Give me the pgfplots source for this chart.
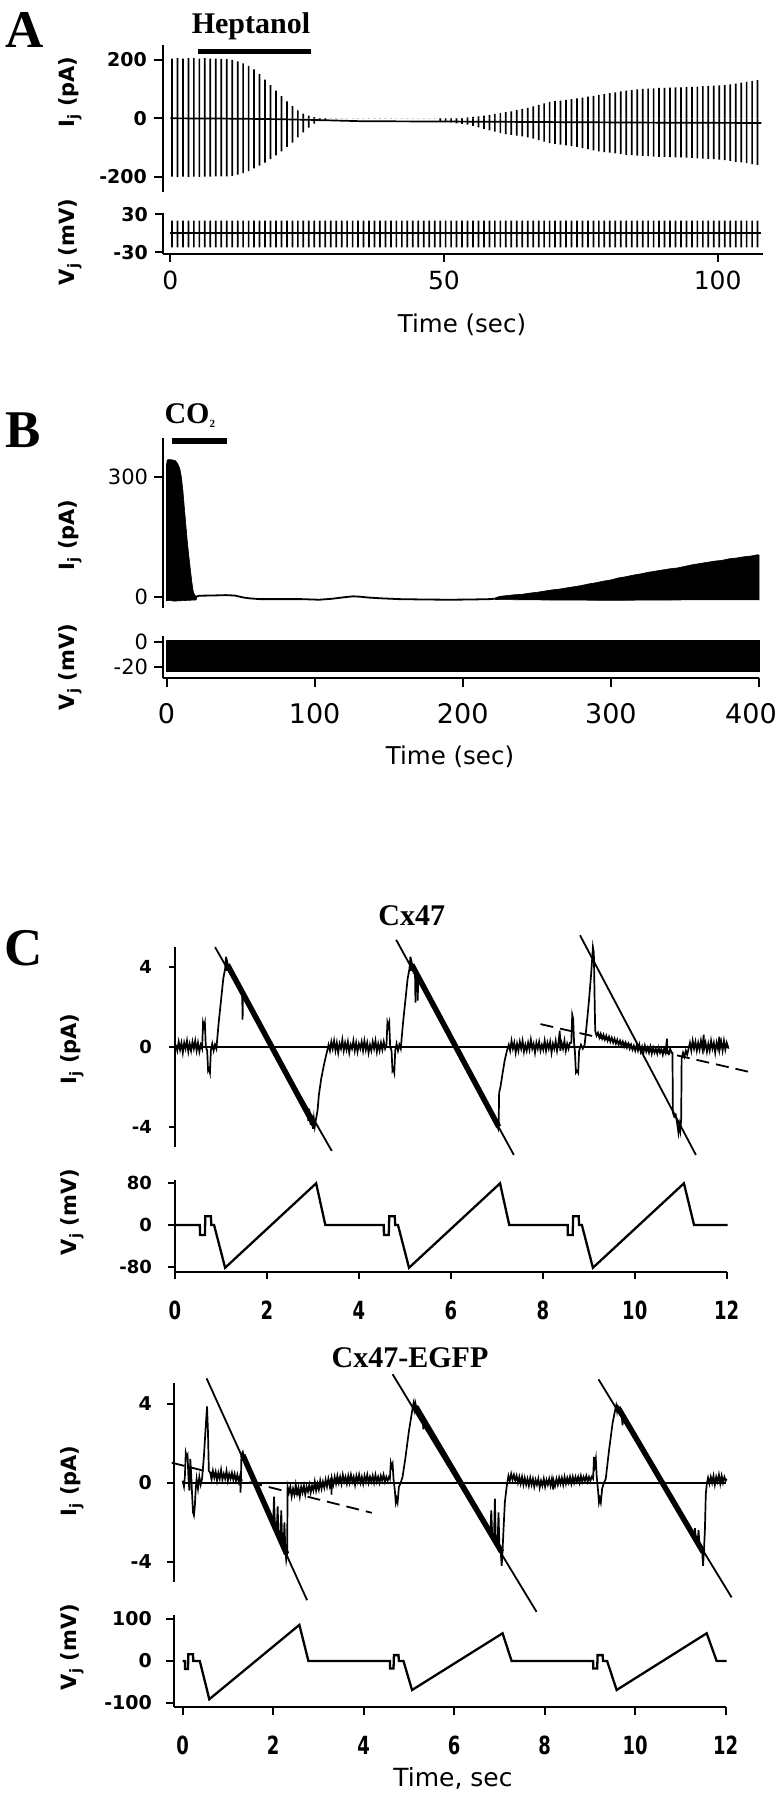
\documentclass[border=0pt]{standalone}
\usepackage{fontspec}
\usepackage{pgfplots}
\usepackage{pgfplotstable}
\pgfplotsset{compat=1.18}
\setmainfont{Liberation Serif}
\newfontfamily\djv{DejaVu Sans}
\newfontfamily\djvc{DejaVu Sans}[FakeStretch=0.72]
\newcommand\fsz[1]{\fontsize{#1bp}{#1bp}\selectfont}

\pgfplotstableread{
t hi lo vh vl
0.3 205 -200 20 -22
1.3 206 -201 20 -22
2.3 205 -200 20 -22
3.3 206 -201 20 -22
4.3 206 -200 20 -22
5.3 205 -201 20 -22
6.3 206 -200 20 -22
7.3 205 -200 20 -22
8.3 205 -199 20 -22
9.3 204 -199 20 -22
10.3 203 -199 20 -22
11.3 200 -197 20 -22
12.3 195 -193 20 -22
13.3 188 -188 20 -22
14.3 180 -181 20 -22
15.3 168 -172 20 -22
16.3 152 -162 20 -22
17.3 133 -152 20 -22
18.3 114 -140 20 -22
19.3 95 -127 20 -22
20.3 76 -113 20 -22
21.3 58 -98 20 -22
22.3 42 -83 20 -22
23.3 27 -65 20 -22
24.3 16 -48 20 -22
25.3 9 -32 20 -22
26.3 4 -18 20 -22
27.3 1 -10 20 -22
28.3 0 -6 20 -22
29.3 0 0 20 -22
30.3 0 0 20 -22
31.3 0 0 20 -22
32.3 0 0 20 -22
33.3 0 0 20 -22
34.3 0 0 20 -22
35.3 0 0 20 -22
36.3 0 0 20 -22
37.3 0 0 20 -22
38.3 0 0 20 -22
39.3 0 0 20 -22
40.3 0 0 20 -22
41.3 0 0 20 -22
42.3 0 0 20 -22
43.3 0 0 20 -22
44.3 0 0 20 -22
45.3 0 0 20 -22
46.3 0 0 20 -22
47.3 0 0 20 -22
48.3 0 0 20 -22
49.3 0 -10 20 -22
50.3 0 -12 20 -22
51.3 0 -14 20 -22
52.3 0 -17 20 -22
53.3 1 -19 20 -22
54.3 3 -22 20 -22
55.3 5 -26 20 -22
56.3 7 -31 20 -22
57.3 9 -36 20 -22
58.3 12 -41 20 -22
59.3 15 -46 20 -22
60.3 18 -51 20 -22
61.3 21 -54 20 -22
62.3 24 -57 20 -22
63.3 28 -59 20 -22
64.3 32 -62 20 -22
65.3 36 -65 20 -22
66.3 41 -70 20 -22
67.3 46 -75 20 -22
68.3 51 -80 20 -22
69.3 56 -85 20 -22
70.3 59 -88 20 -22
71.3 61 -90 20 -22
72.3 63 -93 20 -22
73.3 66 -95 20 -22
74.3 68 -98 20 -22
75.3 71 -102 20 -22
76.3 74 -106 20 -22
77.3 77 -110 20 -22
78.3 80 -113 20 -22
79.3 83 -116 20 -22
80.3 86 -118 20 -22
81.3 89 -120 20 -22
82.3 92 -122 20 -22
83.3 95 -125 20 -22
84.3 97 -126 20 -22
85.3 99 -128 20 -22
86.3 101 -129 20 -22
87.3 102 -130 20 -22
88.3 103 -131 20 -22
89.3 104 -132 20 -22
90.3 104 -132 20 -22
91.3 105 -133 20 -22
92.3 106 -134 20 -22
93.3 106 -134 20 -22
94.3 107 -135 20 -22
95.3 108 -136 20 -22
96.3 109 -137 20 -22
97.3 110 -138 20 -22
98.3 111 -139 20 -22
99.3 112 -140 20 -22
100.3 113 -142 20 -22
101.3 114 -143 20 -22
102.3 116 -146 20 -22
103.3 119 -149 20 -22
104.3 122 -151 20 -22
105.3 125 -154 20 -22
106.3 128 -157 20 -22
107.3 131 -160 20 -22
}\tabA

\pgfplotsset{
  base/.style={scale only axis, clip=false,
    axis line style={line width=2bp, black},
    tick style={line width=2bp, black}, tick align=outside,
    axis y line*=left,
    yticklabel style={inner sep=0pt},
    xticklabel style={inner sep=0pt}},
  ionly/.style={base, axis x line=none},
  vstyle/.style={base, axis x line*=bottom},
  tr/.style={black, line width=1.7bp},
  band/.style={black, line width=5.5bp},
  fit/.style={black, line width=1.8bp},
}

\begin{document}
\begin{tikzpicture}
\path[use as bounding box] (0,0) rectangle (777bp,-1800bp);

%% ---------------- Panel A ----------------
\begin{axis}[ionly, at={(162.7bp,-192bp)}, anchor=south west,
  width=599.8bp, height=147bp, xmin=-1.4, xmax=108.2, ymin=-252.6, ymax=251.3,
  major tick length=9bp,
  ytick={-200,0,200}, yticklabels={-200,0,200},
  yticklabel style={font=\djv\bfseries\fsz{19}, xshift=-6.7bp}]
\addplot[ybar, bar width=1.7bp, bar shift=0pt, fill=black, draw=none] table[x=t,y=hi]{\tabA};
\addplot[ybar, bar width=1.7bp, bar shift=0pt, fill=black, draw=none] table[x=t,y=lo]{\tabA};
\addplot[tr] coordinates {(0,0)(10,-1)(20,-3)(27,-6)(35,-10)(50,-11)(70,-13)(90,-15)(108,-16)};
\draw[line width=5bp] (axis cs:5.1,230.7) -- (axis cs:25.75,230.7);
\end{axis}
\begin{axis}[vstyle, at={(162.7bp,-254bp)}, anchor=south west,
  width=599.8bp, height=40.7bp, xmin=-1.4, xmax=108.2, ymin=-32.4, ymax=31.3,
  major tick length=8bp,
  ytick={-30,30}, yticklabels={-30,30},
  xtick={0,50,100}, xticklabels={0,50,100},
  yticklabel style={font=\djv\bfseries\fsz{19}, xshift=-6.7bp},
  xticklabel style={font=\djv\fsz{25}, yshift=-9bp}]
\addplot[ybar, bar width=1.7bp, bar shift=0pt, fill=black, draw=none] table[x=t,y=vh]{\tabA};
\addplot[ybar, bar width=1.7bp, bar shift=0pt, fill=black, draw=none] table[x=t,y=vl]{\tabA};
\addplot[tr] coordinates {(0,0)(108,0)};
\end{axis}

\node[anchor=base, font=\bfseries\fsz{53}] at (25bp,-47bp) {A};
\node[anchor=base, font=\bfseries\fsz{30}] at (251bp,-33bp) {Heptanol};
\node[rotate=90, font=\djv\bfseries\fsz{21}] at (70bp,-92bp) {I\textsubscript{j} (pA)};
\node[rotate=90, font=\djv\bfseries\fsz{21}] at (70bp,-242bp) {V\textsubscript{j} (mV)};
\node[font=\djv\fsz{24.5}] at (462bp,-325bp) {Time (sec)};

%% ---------------- Panel B ----------------
\begin{axis}[ionly, at={(162.7bp,-608bp)}, anchor=south west,
  width=596.3bp, height=170bp, xmin=-2.57, xmax=400, ymin=-28.2, ymax=396.8,
  major tick length=8.5bp,
  ytick={0,300}, yticklabels={0,300},
  yticklabel style={font=\djv\fsz{21}, xshift=-6bp}]
\addplot[fill=black, draw=black, line width=0.6bp] coordinates {
(0,330)(0.5,342)(2,343)(4,342)(6,340)(7.5,333)(9,320)(10,300)(11,268)(12,225)(13,182)
(14,140)(15,104)(16,72)(17,40)(18,14)(19,4)(20,1)(20.5,-2)
(20,-8)(15,-9)(10,-10)(5,-11)(2,-9)(0,-10)} -- cycle;
\addplot[tr, line width=1.8bp] coordinates {(20,0)(22,2.5)(30,3)(40,4)(46,3)(52,-2)(56,-4)(63,-6)(75,-6)(91,-6)
(103,-7.5)(112,-5)(119,-1.7)(126,1)(131,0)(136,-2)(145,-4)(157,-6)(175,-7)(191,-7.5)(205,-7)(218,-6)(225,-4)};
\addplot[fill=black, draw=black, line width=0.6bp] coordinates {
(222,-3)(225,1)(230,3)(235,5)(240,6)(245,9)(250,11)(255,14)(260,17)(265,19)(270,22)(275,25)
(280,28)(285,32)(290,35)(295,39)(300,42)(305,47)(310,50)(315,54)(320,57)(325,61)(330,64)
(335,67)(340,70)(345,72)(350,76)(355,80)(360,83)(365,86)(370,89)(375,91)(380,95)(385,97)
(390,100)(395,102)(399,105)(400,104)
(400,-8)(350,-8)(300,-9)(250,-8)(222,-7)} -- cycle;
\draw[line width=5.5bp] (axis cs:3.7,389) -- (axis cs:41,389);
\end{axis}
\begin{axis}[vstyle, at={(162.7bp,-678.3bp)}, anchor=south west,
  width=596.3bp, height=42.3bp, xmin=-2.57, xmax=400, ymin=-29.3, ymax=4.5,
  major tick length=8.5bp,
  ytick={-20,0}, yticklabels={-20,0},
  xtick={0,100,200,300,400}, xticklabels={0,100,200,300,{\hspace*{-16bp}400}},
  yticklabel style={font=\djv\fsz{21}, xshift=-6bp},
  xticklabel style={font=\djv\fsz{27}, yshift=-16bp}]
\addplot[fill=black, draw=black, line width=0.6bp] coordinates {(0,0.8)(400,0.8)(400,-24)(0,-24)} -- cycle;
\end{axis}

\node[anchor=base, font=\bfseries\fsz{53}] at (23bp,-447bp) {B};
\node[anchor=base west, font=\bfseries\fsz{30}] at (161bp,-423bp) {CO\raisebox{-4bp}{\fsz{11}2}};
\node[rotate=90, font=\djv\bfseries\fsz{21}] at (70bp,-535bp) {I\textsubscript{j} (pA)};
\node[rotate=90, font=\djv\bfseries\fsz{21}] at (70bp,-667bp) {V\textsubscript{j} (mV)};
\node[font=\djv\fsz{24.5}] at (450bp,-757bp) {Time (sec)};

%% ---------------- Panel C : Cx47 ----------------
\begin{axis}[ionly, at={(175bp,-1146.7bp)}, anchor=south west,
  width=551.7bp, height=200bp, xmin=0, xmax=12, ymin=-5, ymax=5,
  major tick length=6bp,
  ytick={-4,0,4}, yticklabels={-4,0,4},
  yticklabel style={font=\djv\bfseries\fsz{18}, xshift=-17bp}]
\addplot[fit] coordinates {(0,0)(12.05,0)};
\addplot[band] coordinates {(1.14,4.1)(3.02,-3.9)};
\addplot[band] coordinates {(5.15,4.1)(7.04,-4.0)};
\addplot[tr] coordinates {
(0.02,0.1)(0.05,-0.2)(0.08,0.25)(0.11,-0.15)(0.14,0.2)(0.17,-0.3)(0.20,0.2)(0.23,-0.1)(0.26,0.3)(0.29,-0.25)
(0.32,0.15)(0.35,-0.2)(0.38,0.25)(0.41,-0.1)(0.44,0.3)(0.47,-0.2)(0.50,0.2)(0.53,-0.25)(0.56,0.1)(0.59,-0.1)
(0.61,1.2)(0.63,1.0)(0.65,1.2)(0.67,0.0)(0.70,-0.2)(0.72,-1.2)(0.74,-1.1)(0.76,-1.3)(0.78,-0.2)(0.81,0.15)
(0.84,-0.2)(0.87,0.1)(0.90,-0.1)(0.95,1.2)(1.00,2.3)(1.05,3.4)(1.09,3.9)(1.11,4.5)(1.12,3.8)(1.14,4.2)(1.17,3.9)
(1.20,3.95)(1.30,3.5)(1.40,3.1)(1.46,2.8)(1.47,1.35)(1.48,2.75)(1.60,2.2)(1.80,1.35)(2.00,0.5)(2.20,-0.35)
(2.40,-1.2)(2.60,-2.05)(2.80,-2.9)(2.88,-3.2)(2.90,-3.7)(2.92,-3.1)(2.95,-3.9)(2.97,-3.4)(3.00,-4.1)(3.02,-3.6)
(3.04,-4.0)(3.06,-3.7)(3.10,-3.2)(3.13,-2.4)(3.18,-1.6)(3.24,-0.9)(3.30,-0.3)(3.34,0.1)
(3.37,-0.2)(3.40,0.25)(3.43,-0.1)(3.46,0.3)(3.49,-0.2)(3.52,0.2)(3.55,-0.3)(3.58,0.15)(3.61,-0.1)(3.64,0.35)
(3.67,-0.2)(3.70,0.2)(3.73,-0.15)(3.76,0.25)(3.79,-0.3)(3.82,0.1)(3.85,-0.1)(3.88,0.3)(3.91,-0.2)(3.94,0.2)
(3.97,-0.25)(4.00,0.15)(4.03,-0.1)(4.06,0.25)(4.09,-0.2)(4.12,0.3)(4.15,-0.15)(4.18,0.2)(4.21,-0.3)(4.24,0.1)
(4.27,-0.2)(4.30,0.25)(4.33,-0.1)(4.36,0.3)(4.39,-0.25)(4.42,0.15)(4.45,-0.2)(4.48,0.2)(4.51,-0.15)(4.54,0.25)
(4.57,-0.1)(4.60,0.1)
(4.62,1.2)(4.64,1.0)(4.66,1.2)(4.68,0.0)(4.71,-0.2)(4.73,-1.2)(4.75,-1.1)(4.77,-1.3)(4.79,-0.2)(4.82,0.15)
(4.85,-0.2)(4.88,0.1)(4.91,-0.1)(4.96,1.2)(5.01,2.3)(5.06,3.4)(5.10,3.9)(5.12,4.5)(5.13,3.8)(5.15,4.2)(5.18,3.9)
(5.22,3.8)(5.23,2.2)(5.24,3.75)(5.27,3.6)(5.28,2.3)(5.29,3.55)(5.40,3.05)(5.60,2.2)(5.80,1.35)(6.00,0.45)
(6.20,-0.4)(6.40,-1.26)(6.60,-2.1)(6.80,-2.97)(6.95,-3.6)(6.98,-3.8)(7.00,-3.9)(7.03,-4.1)(7.04,-3.9)
(7.05,-2.3)(7.08,-2.0)(7.12,-1.4)(7.17,-0.7)(7.22,-0.2)(7.26,0.1)
(7.29,-0.2)(7.32,0.3)(7.35,-0.1)(7.38,0.2)(7.41,-0.3)(7.44,0.15)(7.47,-0.2)(7.50,0.25)(7.53,-0.1)(7.56,0.3)
(7.59,-0.25)(7.62,0.1)(7.65,-0.2)(7.68,0.2)(7.71,-0.15)(7.74,0.35)(7.77,-0.1)(7.80,0.15)(7.83,-0.3)(7.86,0.2)
(7.89,-0.1)(7.92,0.25)(7.95,-0.2)(7.98,0.1)(8.01,-0.15)(8.04,0.3)(8.07,-0.2)(8.10,0.2)(8.13,-0.1)(8.16,0.25)
(8.19,-0.3)(8.22,0.15)(8.25,-0.1)(8.28,0.3)(8.31,-0.2)(8.34,0.2)(8.37,0.8)(8.38,-0.2)(8.41,0.2)(8.44,-0.1)
(8.47,0.3)(8.50,-0.2)(8.53,0.15)(8.56,-0.1)(8.59,0.2)
(8.62,0.2)(8.64,1.6)(8.66,1.4)(8.68,0.2)(8.70,-0.3)(8.72,-1.3)(8.75,-1.2)(8.77,-1.3)(8.79,-0.2)(8.83,0.1)
(8.87,-0.1)(8.91,0.1)(8.95,1.0)(9.00,2.2)(9.05,3.6)(9.08,4.6)(9.09,4.98)(9.11,4.7)(9.13,2.0)(9.14,0.8)
(9.17,0.55)(9.20,0.7)(9.23,0.45)(9.26,0.65)(9.29,0.4)(9.32,0.6)(9.35,0.35)(9.38,0.55)(9.41,0.3)(9.44,0.5)
(9.47,0.25)(9.50,0.45)(9.53,0.2)(9.56,0.4)(9.59,0.15)(9.62,0.35)(9.65,0.1)(9.68,0.3)(9.71,0.05)(9.74,0.25)
(9.77,0.0)(9.80,0.2)(9.83,-0.05)(9.86,0.15)(9.89,-0.1)(9.92,0.1)(9.95,-0.15)(9.98,0.05)(10.01,-0.2)(10.04,0.05)
(10.07,-0.2)(10.10,0.1)(10.13,-0.25)(10.16,0.0)(10.19,-0.3)(10.22,0.05)(10.25,-0.25)(10.28,-0.05)(10.31,-0.3)
(10.34,0.0)(10.37,-0.35)(10.40,-0.05)(10.43,-0.3)(10.46,-0.1)(10.49,-0.35)(10.52,-0.05)(10.55,-0.3)(10.58,-0.1)
(10.61,-0.4)(10.64,-0.1)(10.67,-0.3)(10.70,0.4)(10.71,-0.2)(10.74,-0.35)(10.77,-0.1)(10.80,-0.3)
(10.82,-0.3)(10.83,-3.3)(10.86,-3.5)(10.89,-3.4)(10.92,-3.8)(10.95,-4.3)(10.97,-3.9)(10.99,-4.2)(11.01,-3.6)
(11.02,-0.6)(11.05,-0.3)(11.08,-0.5)(11.11,-0.2)(11.14,-0.4)(11.17,-0.1)(11.20,0.2)(11.23,-0.2)(11.26,0.3)
(11.29,-0.1)(11.32,0.25)(11.35,-0.2)(11.38,0.2)(11.41,-0.15)(11.44,0.3)(11.47,-0.1)(11.50,0.6)(11.51,-0.1)
(11.54,0.2)(11.57,-0.25)(11.60,0.15)(11.63,-0.2)(11.66,0.3)(11.69,-0.1)(11.72,0.2)(11.75,-0.3)(11.78,0.2)
(11.81,-0.1)(11.84,0.5)(11.85,-0.1)(11.88,0.25)(11.91,-0.2)(11.94,0.3)(11.97,-0.15)(12.00,0.2)(12.04,-0.1)};
\addplot[fit] coordinates {(0.871,4.98)(3.41,-5.21)};
\addplot[fit] coordinates {(4.81,5.35)(7.37,-5.41)};
\addplot[fit] coordinates {(8.81,5.57)(11.33,-5.41)};
\addplot[fit, dash pattern=on 13bp off 7bp] coordinates {(7.95,1.13)(12.49,-1.26)};
\end{axis}
\begin{axis}[vstyle, at={(175bp,-1271.7bp)}, anchor=south west,
  width=551.7bp, height=91.7bp, xmin=0, xmax=12, ymin=-89.6, ymax=86.4,
  major tick length=7bp,
  ytick={-80,0,80}, yticklabels={-80,0,80},
  xtick={0,2,4,6,8,10,12}, xticklabels={0,2,4,6,8,10,12},
  yticklabel style={font=\djv\bfseries\fsz{18}, xshift=-16bp},
  xticklabel style={font=\djvc\bfseries\fsz{25}, yshift=-22bp}]
\addplot[tr, line width=2.3bp] coordinates {
(0,0)(0.54,0)(0.545,-19)(0.65,-19)(0.66,17)(0.78,17)(0.79,0)(0.85,0)(1.09,-82)(3.07,80)(3.27,0)
(4.54,0)(4.545,-19)(4.65,-19)(4.66,17)(4.78,17)(4.79,0)(4.85,0)(5.09,-82)(7.07,80)(7.27,0)
(8.54,0)(8.545,-19)(8.65,-19)(8.66,17)(8.78,17)(8.79,0)(8.85,0)(9.09,-82)(11.07,80)(11.29,0)(12.02,0)};
\end{axis}

\node[anchor=base, font=\bfseries\fsz{53}] at (24bp,-965bp) {C};
\node[anchor=base, font=\bfseries\fsz{30}] at (411.7bp,-925bp) {Cx47};
\node[rotate=90, font=\djv\bfseries\fsz{21}] at (72bp,-1049bp) {I\textsubscript{j} (pA)};
\node[rotate=90, font=\djv\bfseries\fsz{21}] at (72bp,-1212bp) {V\textsubscript{j} (mV)};

%% ---------------- Panel C : Cx47-EGFP ----------------
\begin{axis}[ionly, at={(174bp,-1581.7bp)}, anchor=south west,
  width=551.7bp, height=198.4bp, xmin=-0.19, xmax=12, ymin=-5.0, ymax=5.02,
  major tick length=7bp,
  ytick={-4,0,4}, yticklabels={-4,0,4},
  yticklabel style={font=\djv\bfseries\fsz{19}, xshift=-15bp}]
\addplot[fit] coordinates {(0,0)(12.0,0)};
\addplot[band] coordinates {(1.33,1.4)(2.30,-3.6)};
\addplot[band] coordinates {(5.15,3.85)(7.05,-3.5)};
\addplot[band] coordinates {(9.62,3.8)(11.5,-3.5)};
\addplot[tr] coordinates {
(0.00,0.1)(0.03,-0.2)(0.05,0.3)(0.07,1.5)(0.09,1.3)(0.11,1.4)(0.13,0.2)(0.15,-0.4)(0.17,1.2)(0.19,0.4)
(0.21,-0.6)(0.23,-1.5)(0.25,-1.65)(0.27,-1.2)(0.29,-0.3)(0.31,0.2)(0.34,-0.3)(0.37,0.3)(0.40,-0.1)(0.43,0.2)
(0.47,1.3)(0.51,2.8)(0.54,3.85)(0.56,2.6)(0.58,0.6)
(0.61,0.5)(0.64,0.15)(0.67,0.6)(0.70,0.25)(0.73,0.55)(0.76,0.1)(0.79,0.5)(0.82,0.2)(0.85,0.65)(0.88,0.15)
(0.91,0.45)(0.94,0.2)(0.97,0.6)(1.00,0.1)(1.03,0.45)(1.06,0.2)(1.09,0.5)(1.12,0.15)(1.15,0.45)(1.18,0.1)
(1.21,0.4)(1.24,0.05)(1.27,0.35)(1.28,-0.5)(1.29,0.3)(1.30,1.4)(1.33,1.55)(1.36,1.2)
(1.45,0.85)(1.55,0.3)(1.65,-0.25)(1.75,-0.8)(1.85,-1.3)(1.95,-1.8)(2.00,-2.1)(2.02,-0.7)(2.04,-2.2)(2.08,-2.4)
(2.10,-1.2)(2.12,-2.6)(2.16,-2.8)(2.18,-1.4)(2.20,-3.0)(2.23,-3.3)(2.25,-2.0)(2.27,-3.4)(2.29,-3.9)(2.31,-3.6)
(2.32,-0.2)(2.35,-0.5)(2.38,-0.2)(2.41,-0.7)(2.44,-0.3)(2.47,-0.6)(2.50,-0.1)(2.53,-0.55)(2.56,-0.25)(2.59,-0.7)
(2.62,-0.2)(2.65,-0.5)(2.68,-0.15)(2.71,-0.6)(2.74,-0.2)(2.77,-0.45)(2.80,-0.1)(2.83,-0.5)(2.86,-0.15)(2.89,-0.4)
(2.92,0.05)(2.95,-0.4)(2.98,-0.05)(3.01,-0.35)(3.04,0.1)(3.07,-0.3)(3.10,0.05)(3.13,-0.25)(3.16,0.15)(3.19,-0.2)
(3.22,0.2)(3.25,-0.15)(3.28,0.25)(3.29,-0.6)(3.30,0.2)(3.33,-0.1)(3.36,0.3)(3.39,-0.05)(3.42,0.35)(3.45,0.0)
(3.48,0.3)(3.51,-0.05)(3.54,0.4)(3.57,0.05)(3.60,0.3)(3.63,-0.05)(3.66,0.35)(3.69,0.0)(3.72,0.4)(3.75,0.05)
(3.78,0.3)(3.81,-0.1)(3.84,0.35)(3.87,0.05)(3.90,0.4)(3.93,0.0)(3.96,0.3)(3.99,-0.05)(4.02,0.35)(4.05,0.05)
(4.08,0.4)(4.11,0.0)(4.14,0.3)(4.17,0.05)(4.20,0.35)(4.23,0.0)(4.26,0.4)(4.29,0.05)(4.32,0.3)(4.35,0.0)
(4.38,0.35)(4.41,0.1)(4.44,0.4)(4.47,0.05)(4.50,0.3)(4.53,0.1)(4.56,0.3)
(4.58,0.2)(4.60,1.0)(4.62,0.8)(4.64,0.95)(4.66,0.2)(4.69,-0.4)(4.71,-1.0)(4.73,-0.8)(4.75,-1.0)(4.78,-0.2)
(4.82,0.0)(4.86,0.3)(4.92,1.2)(5.00,2.6)(5.07,3.6)(5.10,4.0)(5.12,3.7)(5.14,4.05)(5.17,3.75)
(5.30,3.25)(5.32,2.7)(5.34,3.2)(5.50,2.5)(5.70,1.7)(5.90,0.95)(6.10,0.15)(6.30,-0.6)(6.50,-1.4)(6.70,-2.15)
(6.80,-2.5)(6.82,-1.4)(6.84,-2.6)(6.88,-2.85)(6.90,-0.8)(6.92,-2.95)(6.96,-3.1)(6.98,-1.5)(7.00,-3.25)(7.03,-3.5)
(7.05,-4.2)(7.07,-3.4)(7.09,-2.4)(7.12,-1.0)(7.16,-0.2)(7.20,0.35)(7.23,0.1)(7.26,0.45)(7.29,0.15)(7.32,0.4)
(7.35,0.1)(7.38,0.35)(7.41,0.0)(7.44,0.3)(7.47,-0.05)(7.50,0.3)(7.53,-0.1)(7.56,0.25)(7.59,-0.1)(7.62,0.2)
(7.65,-0.15)(7.68,0.25)(7.71,-0.1)(7.74,0.2)(7.77,-0.2)(7.80,0.15)(7.83,-0.1)(7.86,0.2)(7.89,-0.25)(7.92,0.1)
(7.95,-0.15)(7.98,0.2)(8.01,-0.2)(8.04,0.15)(8.07,-0.1)(8.10,0.2)(8.13,-0.15)(8.16,0.2)(8.19,-0.35)(8.20,0.1)
(8.23,-0.15)(8.26,0.2)(8.29,-0.1)(8.32,0.25)(8.35,-0.05)(8.38,0.25)(8.41,-0.1)(8.44,0.3)(8.47,-0.05)(8.50,0.25)
(8.53,0.0)(8.56,0.3)(8.59,-0.05)(8.62,0.3)(8.65,0.0)(8.68,0.3)(8.71,0.05)(8.74,0.3)(8.77,0.0)(8.80,0.35)
(8.83,0.05)(8.86,0.3)(8.89,0.1)(8.92,0.35)(8.95,0.05)(8.98,0.3)(9.01,0.1)(9.04,0.3)
(9.07,0.2)(9.09,1.3)(9.11,0.9)(9.13,1.2)(9.15,0.3)(9.18,-0.4)(9.20,-1.0)(9.22,-0.8)(9.24,-1.0)(9.27,-0.3)
(9.31,0.0)(9.35,0.2)(9.42,1.6)(9.50,3.0)(9.56,3.7)(9.58,3.9)(9.60,3.6)(9.62,3.85)
(9.70,3.5)(9.72,2.9)(9.74,3.4)(9.85,2.9)(10.0,2.35)(10.2,1.55)(10.4,0.75)(10.6,0.0)(10.8,-0.8)(11.0,-1.55)
(11.2,-2.35)(11.30,-2.75)(11.32,-2.3)(11.34,-2.85)(11.38,-3.0)(11.40,-2.4)(11.42,-3.1)(11.45,-3.3)(11.48,-3.5)
(11.50,-4.2)(11.52,-3.4)(11.54,-2.4)(11.56,-0.6)(11.58,-0.1)(11.61,0.25)(11.64,-0.05)(11.67,0.3)(11.70,0.0)
(11.73,0.35)(11.76,-0.1)(11.79,0.3)(11.82,0.05)(11.85,0.4)(11.88,-0.05)(11.91,0.35)(11.94,0.0)(11.97,0.3)
(12.00,0.1)(12.02,0.2)};
\addplot[fit] coordinates {(0.53,5.27)(2.75,-5.93)};
\addplot[fit] coordinates {(4.64,5.48)(7.82,-6.52)};
\addplot[fit] coordinates {(9.19,5.22)(12.13,-5.79)};
\addplot[fit, dash pattern=on 13bp off 7bp] coordinates {(-0.24,1.01)(4.18,-1.52)};
\end{axis}
\begin{axis}[vstyle, at={(174bp,-1706.7bp)}, anchor=south west,
  width=551.7bp, height=91.7bp, xmin=-0.19, xmax=12, ymin=-108.8, ymax=109.5,
  major tick length=8bp,
  ytick={-100,0,100}, yticklabels={-100,0,100},
  xtick={0,2,4,6,8,10,12}, xticklabels={0,2,4,6,8,10,12},
  yticklabel style={font=\djv\bfseries\fsz{19}, xshift=-14bp},
  xticklabel style={font=\djvc\bfseries\fsz{25}, yshift=-21bp}]
\addplot[tr, line width=2.3bp] coordinates {
(0,0)(0.05,0)(0.055,-19)(0.12,-19)(0.125,16)(0.23,16)(0.235,0)(0.38,0)(0.59,-91)(2.58,86)(2.78,0)
(4.58,0)(4.585,-18)(4.66,-18)(4.67,14)(4.77,14)(4.78,0)(4.88,0)(5.07,-69)(7.07,66)(7.27,0)
(9.07,0)(9.075,-18)(9.16,-18)(9.17,14)(9.28,14)(9.29,0)(9.38,0)(9.59,-69)(11.58,66)(11.8,0)(12.02,0)};
\end{axis}

\node[anchor=base, font=\bfseries\fsz{30}] at (410bp,-1367bp) {Cx47-EGFP};
\node[rotate=90, font=\djv\bfseries\fsz{21}] at (72bp,-1481bp) {I\textsubscript{j} (pA)};
\node[rotate=90, font=\djv\bfseries\fsz{21}] at (72bp,-1647bp) {V\textsubscript{j} (mV)};
\node[font=\djv\fsz{25}] at (453bp,-1778bp) {Time, sec};

\end{tikzpicture}
\end{document}
